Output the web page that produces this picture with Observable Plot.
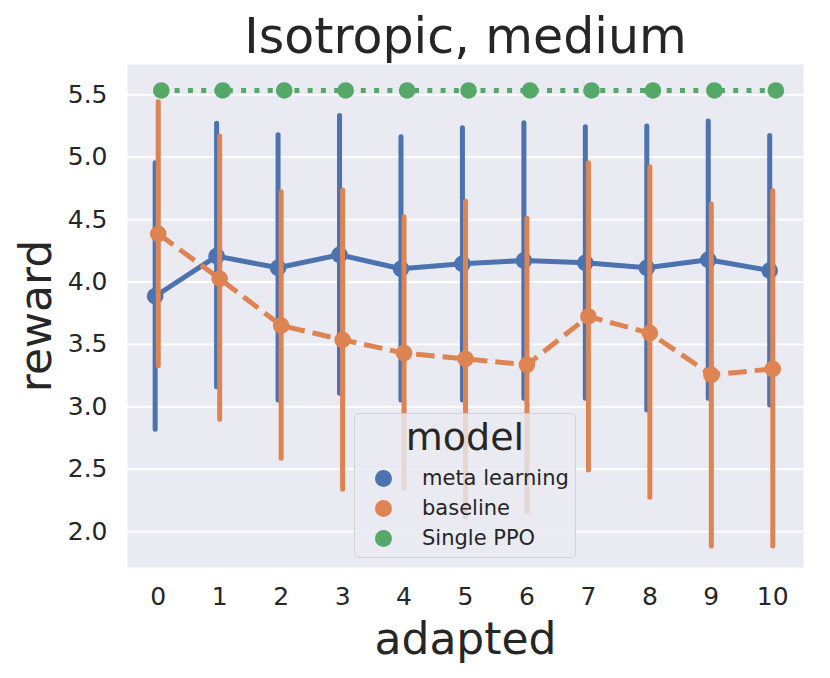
<!DOCTYPE html>
<html>
<head>
<meta charset="utf-8">
<script src="https://cdn.jsdelivr.net/npm/d3@7"></script>
<script src="https://cdn.jsdelivr.net/npm/@observablehq/plot@0.6"></script>
<style>
  body { margin: 0; background: #fff; font-family: "DejaVu Sans", sans-serif; }
  #wrap { position: relative; width: 830px; height: 678px; }
  #legend {
    position: absolute; left: 354px; top: 413px; width: 220px; height: 143px;
    background: rgba(234,234,242,0.8); border: 1px solid rgba(204,204,204,0.8);
    border-radius: 5px; color: #262626; font-family: "DejaVu Sans", sans-serif;
  }
  #legend .ttl { position: absolute; left: 0; width: 100%; top: 1px; text-align: center; font-size: 38px; line-height: normal; }
  #legend .row { position: absolute; left: 0; width: 100%; height: 30px; line-height: 30px; font-size: 21px; }
  #legend .sw { position: absolute; left: 20px; top: 6.5px; width: 17px; height: 17px; border-radius: 50%; }
  #legend .lb { position: absolute; left: 67px; top: 0; white-space: nowrap; }
</style>
</head>
<body>
<div id="wrap"></div>
<script>
const adapted = [0, 1, 2, 3, 4, 5, 6, 7, 8, 9, 10];
const models = ["meta learning", "baseline", "Single PPO"];
const colors = ["#4C72B0", "#DD8452", "#55A868"];
const yTicks = [2.0, 2.5, 3.0, 3.5, 4.0, 4.5, 5.0, 5.5];

const metaMean = [3.886, 4.207, 4.114, 4.218, 4.106, 4.146, 4.172, 4.154, 4.114, 4.178, 4.092];
const metaLo   = [2.816, 3.157, 3.050, 3.104, 3.050, 3.050, 3.064, 3.064, 2.970, 3.064, 3.010];
const metaHi   = [4.952, 5.268, 5.176, 5.331, 5.160, 5.233, 5.273, 5.240, 5.246, 5.286, 5.171];

const baseMean = [4.386, 4.026, 3.651, 3.537, 3.430, 3.384, 3.336, 3.724, 3.590, 3.256, 3.304];
const baseLo   = [3.325, 2.896, 2.583, 2.335, 2.343, 2.115, 2.155, 2.490, 2.271, 1.881, 1.881];
const baseHi   = [5.441, 5.166, 4.720, 4.733, 4.519, 4.645, 4.506, 4.952, 4.920, 4.621, 4.728];

const ppoMean  = [5.535, 5.535, 5.535, 5.535, 5.535, 5.535, 5.535, 5.535, 5.535, 5.535, 5.535];

const dodge = {"meta learning": -0.05, "baseline": 0, "Single PPO": 0.05};
function rows(model, mean, lo, hi) {
  return adapted.map((a, i) => ({
    adapted: a, x: a + dodge[model], model,
    mean: mean[i], lo: lo ? lo[i] : mean[i], hi: hi ? hi[i] : mean[i]
  }));
}
const meta = rows("meta learning", metaMean, metaLo, metaHi);
const base = rows("baseline", baseMean, baseLo, baseHi);
const ppo  = rows("Single PPO", ppoMean, null, null);

const ink = "#262626";
const lw = 5;

function series(data, dash, withErr) {
  const m = [];
  if (withErr) m.push(Plot.ruleX(data, {x: "x", y1: "lo", y2: "hi", stroke: "model", strokeWidth: lw, strokeLinecap: "round"}));
  m.push(Plot.line(data, {x: "x", y: "mean", stroke: "model", strokeWidth: lw, strokeDasharray: dash, strokeLinecap: "butt"}));
  m.push(Plot.dot(data, {x: "x", y: "mean", fill: "model", r: 8.3, stroke: "none"}));
  return m;
}

const chart = Plot.plot({
  width: 830,
  height: 678,
  marginTop: 64,
  marginBottom: 111,
  marginLeft: 127,
  marginRight: 27,
  style: {fontFamily: "DejaVu Sans, sans-serif", color: ink, background: "#fff", overflow: "visible"},
  x: {domain: [-0.5, 10.5], axis: null},
  y: {domain: [1.712, 5.743], axis: null},
  color: {domain: models, range: colors},
  marks: [
    Plot.frame({fill: "#EAEAF2", stroke: "none"}),
    Plot.gridY(yTicks, {stroke: "#fff", strokeOpacity: 1, strokeWidth: 1.8}),
    Plot.axisY({ticks: yTicks, tickFormat: d3.format(".1f"), tickSize: 0, tickPadding: 20, fontSize: 25, label: null, fill: ink}),
    Plot.axisX({ticks: adapted, tickFormat: d => String(d), tickSize: 0, tickPadding: 20, fontSize: 25, label: null, fill: ink}),
    ...series(meta, null, true),
    ...series(base, "18.5,8", true),
    ...series(ppo, "5,8.3", false),
    Plot.text(["Isotropic, medium"], {frameAnchor: "top", textAnchor: "middle", lineAnchor: "bottom", dy: -12, fontSize: 49, fill: ink}),
    Plot.text(["adapted"], {frameAnchor: "bottom", textAnchor: "middle", lineAnchor: "bottom", dy: 86, fontSize: 44, fill: ink}),
    Plot.text(["reward"], {frameAnchor: "left", textAnchor: "middle", lineAnchor: "bottom", rotate: -90, dx: -77, fontSize: 44, fill: ink})
  ]
});

const wrap = document.getElementById("wrap");
wrap.appendChild(chart);

const legend = document.createElement("div");
legend.id = "legend";
let html = '<div class="ttl">model</div>';
models.forEach((m, i) => {
  html += `<div class="row" style="top:${49 + i * 30}px"><span class="sw" style="background:${colors[i]}"></span><span class="lb">${m}</span></div>`;
});
legend.innerHTML = html;
wrap.appendChild(legend);
</script>
</body>
</html>
